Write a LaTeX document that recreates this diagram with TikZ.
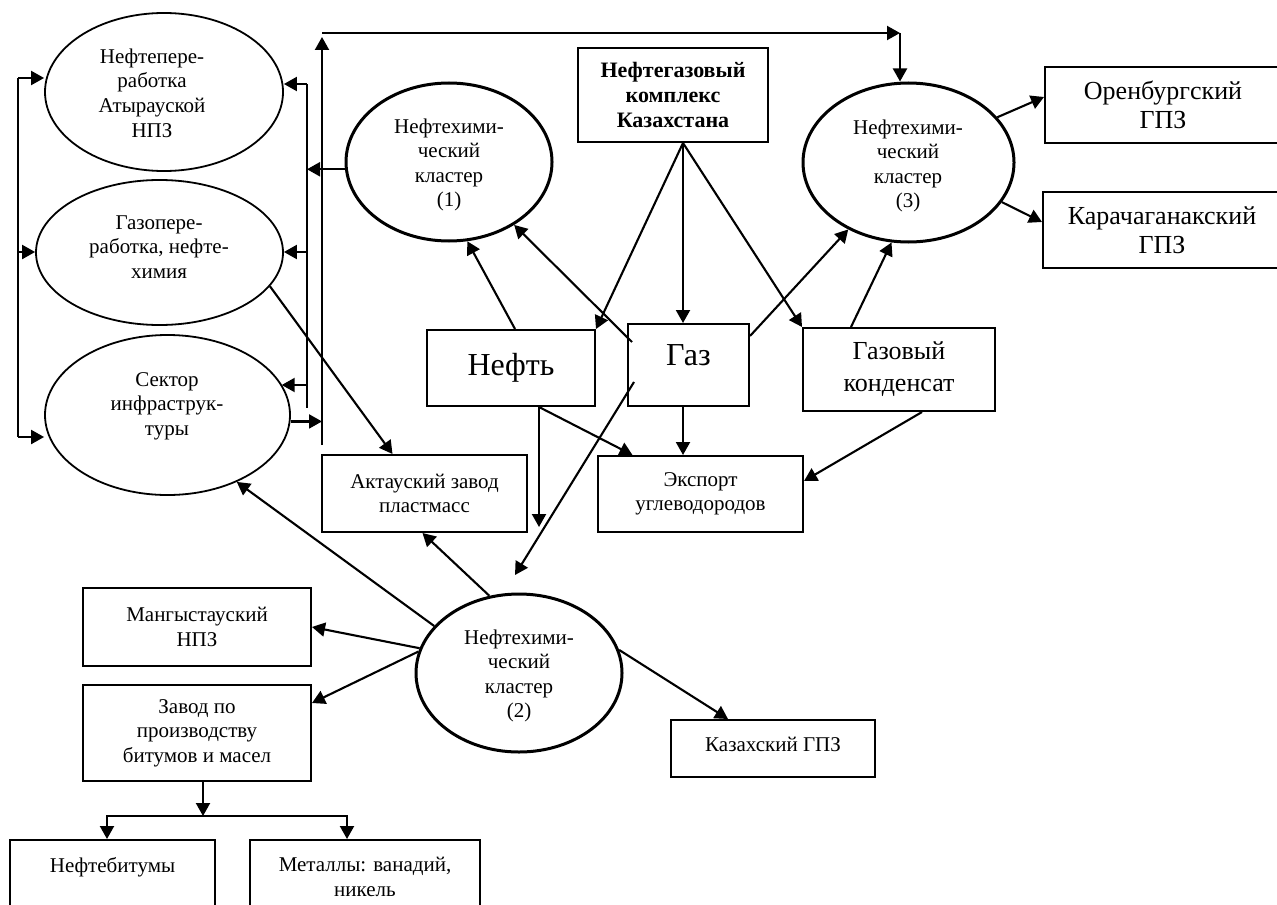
\documentclass[tikz,border=0pt]{standalone}
\usepackage{fontspec}
\setmainfont{Liberation Serif}
\usetikzlibrary{shapes.geometric,arrows.meta,calc}
\begin{document}
\begin{tikzpicture}[x=0.5pt,y=-0.5pt,
  conn/.style={line width=1.05pt},
  arr/.style={conn,-{Triangle[length=6.5pt,width=7pt]}},
  thinell/.style={ellipse,draw,line width=0.9pt,inner sep=0pt},
  clell/.style={ellipse,draw,line width=1.5pt,inner sep=0pt},
  boxn/.style={rectangle,draw,line width=1pt,inner sep=0pt,align=center,font=\fontsize{10.5}{12.2}\selectfont},
  bigbox/.style={boxn,font=\fontsize{13}{14.5}\selectfont},
  etxt/.style={align=center,inner sep=0pt,font=\fontsize{10.5}{12.3}\selectfont}
]
\useasboundingbox (0,0) rectangle (1277,904);

% ellipses
\node[thinell,minimum width=119pt,minimum height=79pt] (ea) at (164,92) {};
\node[etxt] (ea-t) at (152,93) {Нефтепере-\\работка\\Атырауской\\НПЗ};
\node[thinell,minimum width=123.5pt,minimum height=72.5pt] (eg) at (159.5,252.5) {};
\node[etxt] (eg-t) at (159,247) {Газопере-\\работка, нефте-\\химия};
\node[thinell,minimum width=122.5pt,minimum height=80pt] (es) at (167.5,415) {};
\node[etxt] (es-t) at (167,406) {Сектор\\инфраструк-\\туры};
\node[clell,minimum width=103pt,minimum height=79pt] (c1) at (449,162) {};
\node[etxt] (c1-t) at (449,165) {Нефтехими-\\ческий\\кластер\\(1)};
\node[clell,minimum width=103pt,minimum height=79pt] (c2) at (519,673) {};
\node[etxt] (c2-t) at (519,676) {Нефтехими-\\ческий\\кластер\\(2)};
\node[clell,minimum width=105.5pt,minimum height=79.5pt] (c3) at (908.5,162.5) {};
\node[etxt] (c3-t) at (908,166) {Нефтехими-\\ческий\\кластер\\(3)};

% boxes
\node[boxn,minimum width=95pt,minimum height=47pt,font=\fontsize{11}{12.3}\selectfont\bfseries] (ngk) at (673,95) {Нефтегазовый\\комплекс\\Казахстана};
\node[boxn,minimum width=84pt,minimum height=38pt,font=\fontsize{16}{19}\selectfont] (neft) at (511,368) {\raisebox{3pt}{Нефть}};
\node[boxn,minimum width=60.5pt,minimum height=41pt,font=\fontsize{16}{19}\selectfont] (gaz) at (688.5,365) {\raisebox{10pt}{Газ}};
\node[boxn,minimum width=96pt,minimum height=41.5pt,font=\fontsize{13}{16}\selectfont] (kond) at (899,369.5) {Газовый\\конденсат};
\node[bigbox,minimum width=118pt,minimum height=38pt] (oren) at (1163,105) {Оренбургский\\ГПЗ};
\node[bigbox,minimum width=119pt,minimum height=38pt] (kar) at (1162,230) {Карачаганакский\\ГПЗ};
\node[boxn,minimum width=102.5pt,minimum height=38.5pt] (akt) at (424.5,493.5) {Актауский завод\\пластмасс};
\node[boxn,minimum width=102.5pt,minimum height=38pt] (exp) at (700.5,494) {Экспорт\\углеводородов};
\node[boxn,minimum width=114pt,minimum height=39pt] (mang) at (197,627) {Мангыстауский\\НПЗ};
\node[boxn,minimum width=114pt,minimum height=48pt] (zavod) at (197,733) {Завод по\\производству\\битумов и масел};
\node[boxn,minimum width=102pt,minimum height=28.5pt] (kaz) at (773,748.5) {\raisebox{4pt}{Казахский ГПЗ}};
\node[boxn,minimum width=102.5pt,minimum height=37pt] (nb) at (112.5,877) {Нефтебитумы\\\mbox{}};
\node[boxn,minimum width=115pt,minimum height=37pt] (met) at (365,877) {Металлы: ванадий,\\никель};

% connectors from the complex
\coordinate (hub) at ([xshift=5pt]ngk.south);
\draw[arr] (hub) -- (neft.north east);
\draw[arr] (hub) -- (hub |- gaz.north);
\draw[arr] (hub) -- (kond.north west);
\draw[arr] ([xshift=2pt]neft.north) -- (c1.-77);
\draw[arr] ([xshift=2.5pt,yshift=-9.5pt]gaz.north west) -- (c1.-44);
\draw[arr] ([yshift=-6.5pt]gaz.north east) -- (c3.-132);
\draw[arr] ([xshift=-24pt]kond.north) -- (c3.-102);
\draw[arr] (c3.27) -- ([yshift=4pt]oren.west);
\draw[arr] (c3.-23) -- ([yshift=4pt]kar.west);
\coordinate (nsouth) at ([xshift=14pt]neft.south);
\draw[arr] (nsouth) -- ([xshift=-34pt]exp.north);
\coordinate (nend) at (539,527);
\draw[arr] (nsouth) -- (nend);
\coordinate (gs) at ([xshift=-2.75pt]gaz.south);
\draw[arr] (gs) -- (gs |- exp.north);
\coordinate (gend) at (515,575);
\draw[arr] ([xshift=3.5pt,yshift=-29.5pt]gaz.north west) -- (gend);
\draw[arr] ([xshift=11.5pt]kond.south) -- ([yshift=6.5pt]exp.east);
\draw[arr] (eg.-17) -- ([xshift=-16pt]akt.north);

% from cluster 2
\draw[arr] (c2.111) -- ([xshift=-1pt]akt.south);
\draw[arr] (c2.151) -- (es.-44);
\draw[arr] (c2.166) -- (mang.east);
\draw[arr] (c2.168) -- ([yshift=15pt]zavod.east);
\draw[arr] (c2.13) -- ([xshift=-22.5pt]kaz.north);

% split under the plant
\coordinate (zs) at ([xshift=3pt]zavod.south);
\coordinate (split) at (203,816);
\draw[arr] (zs) -- (split);
\coordinate (nbtop) at ([xshift=-2.75pt]nb.north);
\coordinate (mettop) at ([xshift=-9pt]met.north);
\draw[arr] (split) -| (nbtop);
\draw[arr] (split) -| (mettop);

% left bracket
\coordinate (bl1) at (18,78);
\coordinate (bl2) at (18,252);
\coordinate (bl3) at (18,437);
\draw[conn] (bl1) -- (bl3);
\draw[arr] (bl1) -- (bl1 -| ea.west);
\draw[arr] (bl2) -- (bl2 -| eg.west);
\draw[arr] (bl3) -- (bl3 -| es.west);

% inner vertical
\coordinate (iv1) at (307,84);
\coordinate (iv2) at (307,252);
\coordinate (iv3) at (307,385);
\coordinate (ivb) at (307,408);
\draw[conn] (iv1) -- (ivb);
\draw[arr] (iv1) -- (iv1 -| ea.east);
\draw[arr] (iv2) -- (iv2 -| eg.east);
\draw[arr] (iv3) -- (iv3 -| es.15);
\draw[arr] (c1.184) -- (c1.184 -| iv1);

% outer vertical and top line
\coordinate (ov1) at (322,445);
\coordinate (ov2) at (322,37);
\coordinate (th1) at (322,33);
\coordinate (th2) at (900,33);
\draw[arr] (ov1) -- (ov2);
\draw[arr] (th1) -- (th2);
\draw[arr] (th2) -- (th2 |- c3.north);
\draw[arr] (es.-3) -- (es.-3 -| ov1);
\end{tikzpicture}
\end{document}
